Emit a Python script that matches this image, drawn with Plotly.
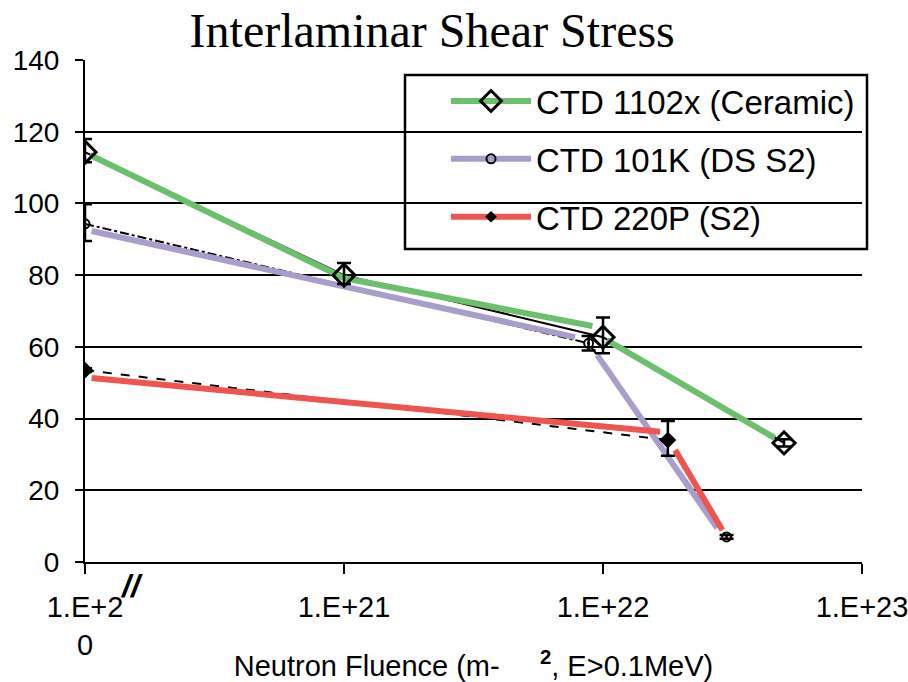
import plotly.graph_objects as go

# Neutron fluence (m^-2, E>0.1 MeV) and interlaminar shear stress (MPa)
fluence_ceramic = [1e20, 1e21, 1e22, 5e22]
iss_ceramic = [114.3, 80.0, 62.7, 33.2]
err_up_ceramic = [3.7, 3.4, 5.5, 1.0]
err_dn_ceramic = [2.8, 2.5, 4.5, 1.0]

fluence_ds = [1e20, 8.8e21, 3.0e22]
iss_ds = [94.3, 61.0, 7.0]
err_up_ds = [5.5, 2.0, 0.5]
err_dn_ds = [4.8, 2.0, 0.5]

fluence_220p = [1e20, 1.78e22]
iss_220p = [53.5, 34.0]
err_up_220p = [0.5, 5.3]
err_dn_220p = [0.5, 4.4]

# Hand-drawn trend strokes over the data
trend_ceramic_x = [1.045e20, 1e21, 9.1e21, None, 1.035e22, 4.6e22]
trend_ceramic_y = [113.5, 79.2, 65.8, None, 61.9, 34.6]
trend_ds_x = [1.06e20, 7.8e21, None, 9.5e21, 2.76e22]
trend_ds_y = [92.3, 62.7, None, 57.7, 9.5]
trend_220p_x = [1.06e20, 1.66e22, None, 1.9e22, 2.89e22]
trend_220p_y = [51.3, 36.3, None, 31.2, 8.9]

names = ["CTD 1102x (Ceramic)", "CTD 101K (DS S2)", "CTD 220P (S2)"]
x_ticks = [1e20, 1e21, 1e22, 1e23]
x_tick_text = ["1.E+2<br>0", "1.E+21", "1.E+22", "1.E+23"]
y_ticks = [0, 20, 40, 60, 80, 100, 120, 140]

GREEN = "#6cbf6c"
PURPLE = "#a99dcc"
RED = "#ee5450"
SANS = "Liberation Sans, Arial, sans-serif"
SERIF = "Liberation Serif, Times New Roman, serif"

series = [
    dict(x=fluence_ceramic, y=iss_ceramic, up=err_up_ceramic, dn=err_dn_ceramic,
         dash="solid", sym="diamond-open", size=17, mlw=3, color=GREEN,
         tx=trend_ceramic_x, ty=trend_ceramic_y),
    dict(x=fluence_ds, y=iss_ds, up=err_up_ds, dn=err_dn_ds,
         dash="dashdot", sym="circle-open", size=9, mlw=2, color=PURPLE,
         tx=trend_ds_x, ty=trend_ds_y),
    dict(x=fluence_220p, y=iss_220p, up=err_up_220p, dn=err_dn_220p,
         dash="dash", sym="diamond", size=13, mlw=0, color=RED,
         tx=trend_220p_x, ty=trend_220p_y),
]

fig = go.Figure()

# thin black connecting lines
for s in series:
    fig.add_trace(go.Scatter(x=s["x"], y=s["y"], mode="lines",
                             line=dict(color="black", width=2, dash=s["dash"]),
                             showlegend=False, hoverinfo="skip"))

# coloured trend strokes
for s in series:
    fig.add_trace(go.Scatter(x=s["tx"], y=s["ty"], mode="lines",
                             line=dict(color=s["color"], width=6),
                             connectgaps=False, showlegend=False, hoverinfo="skip"))

# markers with error bars
for s, name in zip(series, names):
    fig.add_trace(go.Scatter(
        x=s["x"], y=s["y"], mode="markers", name=name, showlegend=False,
        marker=dict(symbol=s["sym"], size=s["size"], color="black",
                    line=dict(color="black", width=s["mlw"])),
        error_y=dict(type="data", symmetric=False, array=s["up"], arrayminus=s["dn"],
                     color="black", thickness=2.5, width=7),
    ))

# legend entries
for i, (s, name) in enumerate(zip(series, names)):
    fig.add_trace(go.Scatter(
        x=[None], y=[None], mode="lines+markers", name=name, legendgroup=f"g{i}",
        line=dict(color=s["color"], width=6),
        marker=dict(symbol=s["sym"], size=s["size"] if i == 0 else 9, color="black",
                    line=dict(color="black", width=s["mlw"])),
    ))

PLOT_W = 862 - 85
PLOT_H = 562 - 60

fig.update_layout(
    width=908, height=682,
    margin=dict(l=85, r=46, t=60, b=120, autoexpand=False),
    paper_bgcolor="white", plot_bgcolor="white",
    font=dict(family=SANS, color="black", size=28),
    title=dict(text="Interlaminar Shear Stress", x=0.476, xanchor="center",
               y=1 - 30 / 682, yanchor="middle",
               font=dict(family=SERIF, size=48, color="black")),
    showlegend=True,
    legend=dict(x=(446 - 85) / PLOT_W, xanchor="left", y=(562 - 73) / PLOT_H, yanchor="top",
                bgcolor="rgba(0,0,0,0)", borderwidth=0,
                font=dict(family=SANS, size=33, color="black"),
                itemwidth=80, tracegroupgap=12, traceorder="grouped"),
    xaxis=dict(type="log", range=[20, 23.0], tickvals=x_ticks, ticktext=x_tick_text,
               showgrid=False, zeroline=False, showline=True, linecolor="black", linewidth=2,
               ticks="outside", ticklen=10, tickwidth=2, tickcolor="black",
               ticklabelstandoff=8, ticklabeloverflow="allow", automargin=False,
               tickfont=dict(family=SANS, size=29),
               title=dict(text="Neutron Fluence (m-&nbsp;&nbsp;&nbsp;&nbsp;&nbsp;<sup><b>2</b></sup>, E>0.1MeV)",
                          font=dict(family=SANS, size=29), standoff=8)),
    yaxis=dict(range=[0, 140], tickvals=y_ticks,
               showgrid=True, gridcolor="black", gridwidth=2, zeroline=False,
               showline=True, linecolor="black", linewidth=2,
               ticks="outside", ticklen=8, tickwidth=2, tickcolor="black",
               ticklabelstandoff=10, ticklabeloverflow="allow", automargin=False,
               tickfont=dict(family=SANS, size=28)),
    shapes=[dict(type="rect", xref="paper", yref="paper",
                 x0=(405 - 85) / PLOT_W, x1=(867 - 85) / PLOT_W,
                 y0=(562 - 249) / PLOT_H, y1=(562 - 75) / PLOT_H,
                 line=dict(color="black", width=2.5), fillcolor="rgba(0,0,0,0)")],
    annotations=[dict(text="<i><b>//</b></i>", xref="paper", yref="paper",
                      x=(131 - 85) / PLOT_W, y=(562 - 586) / PLOT_H,
                      xanchor="center", yanchor="middle", showarrow=False,
                      font=dict(family=SANS, size=32, color="black"))],
)

fig.write_html("out.html")
